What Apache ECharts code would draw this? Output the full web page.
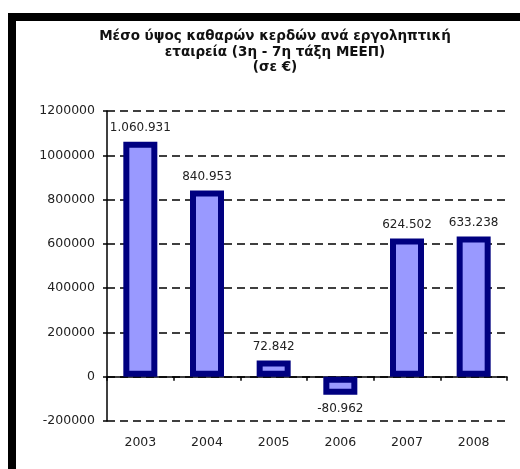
<!DOCTYPE html>
<html><head><meta charset="utf-8">
<script src="https://cdn.jsdelivr.net/npm/echarts@6/dist/echarts.min.js"></script>
<style>html,body{margin:0;padding:0;background:#fff}#c{width:520px;height:469px}</style>
</head><body><div id="c"></div>
<script>
var titleLines = ['Μέσο ύψος καθαρών κερδών ανά εργοληπτική', 'εταιρεία (3η - 7η τάξη ΜΕΕΠ)', '(σε €)'];
var categories = ['2003', '2004', '2005', '2006', '2007', '2008'];
var values = [1060931, 840953, 72842, -80962, 624502, 633238];
var yMin = -200000, yMax = 1200000, yStep = 200000;

function fmt(v) {
  var s = String(Math.abs(v)).replace(/\B(?=(\d{3})+(?!\d))/g, '.');
  return (v < 0 ? '-' : '') + s;
}
var font = 'DejaVu Sans';
var dataItems = values.map(function (v) {
  return v < 0 ? {value: v, label: {position: 'bottom'}} : v;
});
var chart = echarts.init(document.getElementById('c'), null, {renderer: 'canvas'});
chart.setOption({
  animation: false,
  backgroundColor: '#fff',
  title: {
    text: titleLines.join('\n'),
    left: 270, top: 24, textAlign: 'center',
    textStyle: {fontFamily: font, fontSize: 13.5, fontWeight: 'bold', color: '#111', lineHeight: 15.5}
  },
  grid: {left: 107, right: 13, top: 111, bottom: 48},
  xAxis: [{
    type: 'category', data: categories,
    axisLine: {onZero: true, lineStyle: {color: '#000', width: 1.5}},
    axisTick: {show: true, length: 4, inside: false, lineStyle: {color: '#000', width: 1.5}},
    axisLabel: {show: false}
  }, {
    type: 'category', data: categories, position: 'bottom',
    axisLine: {show: false, onZero: false}, axisTick: {show: false},
    axisLabel: {fontFamily: font, fontSize: 12.5, color: '#222', margin: 15}
  }],
  yAxis: {
    type: 'value', min: yMin, max: yMax, interval: yStep,
    axisLine: {show: true, lineStyle: {color: '#000', width: 1.5}},
    axisTick: {show: true, length: 4, lineStyle: {color: '#000', width: 1.5}},
    axisLabel: {fontFamily: font, fontSize: 12.5, color: '#222', margin: 12,
      formatter: function (v) { return String(v); }},
    splitLine: {show: true, lineStyle: {color: '#000', width: 1.5, type: [8, 5]}}
  },
  series: [{
    type: 'bar', data: dataItems, xAxisIndex: 0, barWidth: 34,
    itemStyle: {color: '#9999ff', borderColor: '#000080', borderWidth: 6},
    label: {
      show: true, fontFamily: font, fontSize: 12, color: '#222', distance: 8,
      position: 'top',
      formatter: function (p) { return fmt(p.value); }
    }
  }],
  graphic: [
    {type: 'rect', shape: {x: 8, y: 13, width: 8, height: 460}, style: {fill: '#000'}, z: 100},
    {type: 'rect', shape: {x: 8, y: 13, width: 520, height: 8}, style: {fill: '#000'}, z: 100}
  ]
});
</script></body></html>
